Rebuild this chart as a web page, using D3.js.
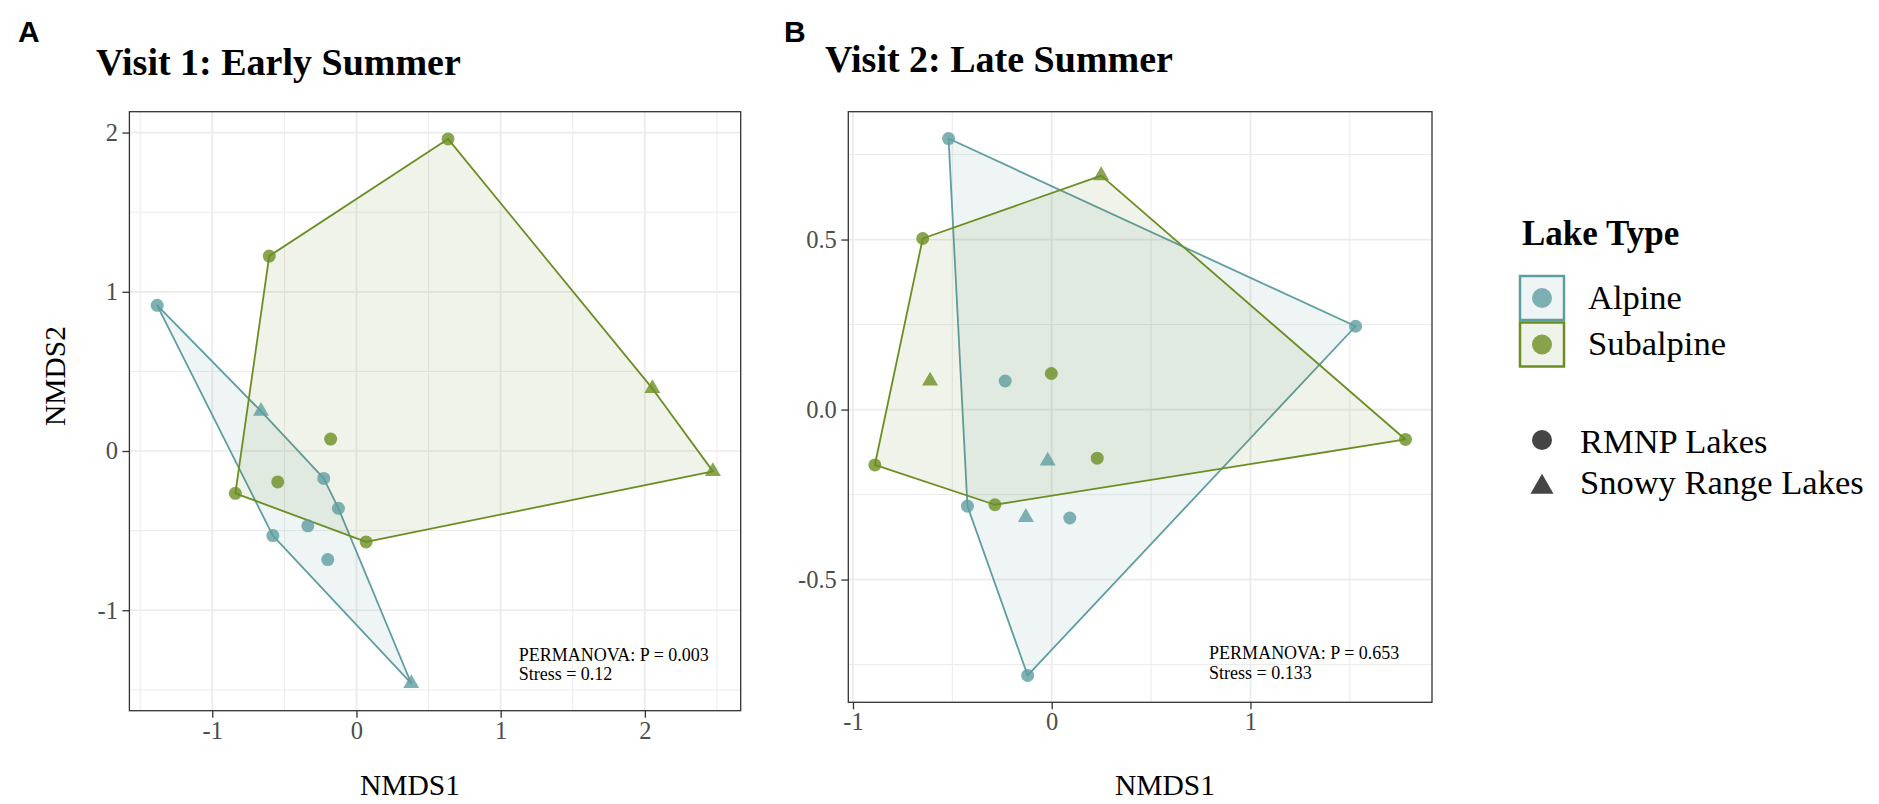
<!DOCTYPE html>
<html>
<head>
<meta charset="utf-8">
<script src="https://cdn.jsdelivr.net/npm/d3@7"></script>
<style>
  body { margin: 0; background: #fff; }
  svg { display: block; }
</style>
</head>
<body>
<svg id="fig" width="1879" height="804"></svg>
<script>
// NMDS scores: [NMDS1, NMDS2, site]
const visit1Alpine = [
  [-1.382, 0.915, "RMNP"], [-0.227, -0.172, "RMNP"], [-0.125, -0.36, "RMNP"],
  [-0.337, -0.47, "RMNP"], [-0.58, -0.531, "RMNP"], [-0.199, -0.682, "RMNP"],
  [-0.662, 0.25, "Snowy"], [0.38, -1.46, "Snowy"]
];
const visit1Subalpine = [
  [0.635, 1.96, "RMNP"], [-0.605, 1.224, "RMNP"], [-0.179, 0.075, "RMNP"],
  [-0.546, -0.194, "RMNP"], [-0.84, -0.266, "RMNP"], [0.067, -0.571, "RMNP"],
  [2.052, 0.393, "Snowy"], [2.472, -0.128, "Snowy"]
];
const visit2Alpine = [
  [-0.519, 0.797, "RMNP"], [1.529, 0.245, "RMNP"], [-0.234, 0.084, "RMNP"],
  [-0.424, -0.284, "RMNP"], [0.091, -0.319, "RMNP"], [-0.121, -0.782, "RMNP"],
  [-0.02, -0.151, "Snowy"], [-0.13, -0.317, "Snowy"]
];
const visit2Subalpine = [
  [-0.649, 0.503, "RMNP"], [-0.002, 0.106, "RMNP"], [0.229, -0.143, "RMNP"],
  [-0.89, -0.163, "RMNP"], [-0.286, -0.28, "RMNP"], [1.78, -0.088, "RMNP"],
  [0.249, 0.688, "Snowy"], [-0.612, 0.084, "Snowy"]
];

const lakeTypes = ["Alpine", "Subalpine"];
const lakeColors = ["#5F9EA0", "#6B8E23"];
const siteKeys = ["RMNP", "Snowy"];
const siteLabels = ["RMNP Lakes", "Snowy Range Lakes"];

const v1XTicks = [-1, 0, 1, 2];
const v1YTicks = [-1, 0, 1, 2];
const v2XTicks = [-1, 0, 1];
const v2YTicks = [-0.5, 0, 0.5];
const v2YLabels = ["-0.5", "0.0", "0.5"];

// text annotations: [NMDS1, NMDS2] of the first line
const v1Stats = ["PERMANOVA: P = 0.003", "Stress = 0.12"];
const v2Stats = ["PERMANOVA: P = 0.653", "Stress = 0.133"];
const v1StatsAt = [1.125, -1.317];
const v2StatsAt = [0.792, -0.734];

const serif = "'Liberation Serif', 'Times New Roman', Times, serif";
const sans = "'Liberation Sans', Arial, Helvetica, sans-serif";
const colorOf = d3.scaleOrdinal().domain(lakeTypes).range(lakeColors);
const shapeOf = d3.scaleOrdinal().domain(siteKeys).range([d3.symbolCircle, d3.symbolTriangle]);
const sizeOf = d3.scaleOrdinal().domain(siteKeys).range([133, 111]);

const svg = d3.select("#fig");

function expanded(ext) {
  const pad = (ext[1] - ext[0]) * 0.05;
  return [ext[0] - pad, ext[1] + pad];
}

function minorOf(ticks, domain) {
  const step = ticks[1] - ticks[0];
  return d3.range(ticks[0] - step / 2, domain[1], step).filter(v => v > domain[0]);
}

function drawPanel(p) {
  const all = p.groups.flatMap(g => g.points);
  const xDom = expanded(d3.extent(all, d => d[0]));
  const yDom = expanded(d3.extent(all, d => d[1]));
  const x = d3.scaleLinear().domain(xDom).range([p.left, p.right]);
  const y = d3.scaleLinear().domain(yDom).range([p.bottom, p.top]);
  const g = svg.append("g");

  // grid
  const grid = g.append("g").attr("stroke", "#ebebeb").attr("fill", "none");
  minorOf(p.xTicks, xDom).forEach(v => grid.append("line")
    .attr("x1", x(v)).attr("x2", x(v)).attr("y1", p.top).attr("y2", p.bottom).attr("stroke-width", 1));
  minorOf(p.yTicks, yDom).forEach(v => grid.append("line")
    .attr("y1", y(v)).attr("y2", y(v)).attr("x1", p.left).attr("x2", p.right).attr("stroke-width", 1));
  p.xTicks.forEach(v => grid.append("line")
    .attr("x1", x(v)).attr("x2", x(v)).attr("y1", p.top).attr("y2", p.bottom).attr("stroke-width", 1.7));
  p.yTicks.forEach(v => grid.append("line")
    .attr("y1", y(v)).attr("y2", y(v)).attr("x1", p.left).attr("x2", p.right).attr("stroke-width", 1.7));

  // convex hulls
  p.groups.forEach(gr => {
    const hull = d3.polygonHull(gr.points.map(d => [x(d[0]), y(d[1])]));
    g.append("path")
      .attr("d", "M" + hull.join("L") + "Z")
      .attr("fill", colorOf(gr.type))
      .attr("fill-opacity", 0.1)
      .attr("stroke", colorOf(gr.type))
      .attr("stroke-width", 1.8)
      .attr("stroke-linejoin", "round");
  });

  // points
  p.groups.forEach(gr => {
    g.append("g").selectAll("path")
      .data(gr.points)
      .join("path")
      .attr("transform", d => `translate(${x(d[0])},${y(d[1])})`)
      .attr("d", d => d3.symbol(shapeOf(d[2]), sizeOf(d[2]))())
      .attr("fill", colorOf(gr.type))
      .attr("fill-opacity", 0.8);
  });

  // border
  g.append("rect")
    .attr("x", p.left).attr("y", p.top)
    .attr("width", p.right - p.left).attr("height", p.bottom - p.top)
    .attr("fill", "none").attr("stroke", "#333").attr("stroke-width", 1.3);

  // axes
  const xAxis = g.append("g")
    .attr("transform", `translate(0,${p.bottom})`)
    .call(d3.axisBottom(x).tickValues(p.xTicks).tickSize(7).tickPadding(3.5));
  const yAxis = g.append("g")
    .attr("transform", `translate(${p.left},0)`)
    .call(d3.axisLeft(y).tickValues(p.yTicks).tickSize(7).tickPadding(4.5));
  [xAxis, yAxis].forEach(a => {
    a.select(".domain").remove();
    a.selectAll("line").attr("stroke", "#333").attr("stroke-width", 1.3);
    a.selectAll("text").attr("fill", "#4d4d4d").style("font-family", serif).style("font-size", "24.5px");
  });
  xAxis.selectAll("text").text(d => String(d));
  yAxis.selectAll("text").text((d, i) => p.yLabels ? p.yLabels[i] : String(d));

  // stats text
  const st = g.append("text")
    .attr("x", x(p.statsAt[0])).attr("y", y(p.statsAt[1]))
    .style("font-family", serif).style("font-size", "18px").attr("fill", "#000");
  p.stats.forEach((s, i) => st.append("tspan").attr("x", x(p.statsAt[0])).attr("dy", i ? 19.5 : 0).text(s));

  // titles
  svg.append("text").attr("x", p.titleX).attr("y", p.titleY)
    .style("font-family", serif).style("font-size", "38px").style("font-weight", "bold")
    .text(p.title);
  svg.append("text").attr("x", p.tagX).attr("y", 42)
    .style("font-family", sans).style("font-size", "30px").style("font-weight", "bold")
    .text(p.tag);
  svg.append("text").attr("x", p.xTitleX).attr("y", 795).attr("text-anchor", "middle")
    .style("font-family", serif).style("font-size", "29.5px")
    .text("NMDS1");
  if (p.yTitle) {
    svg.append("text").attr("transform", "translate(65,376) rotate(-90)").attr("text-anchor", "middle")
      .style("font-family", serif).style("font-size", "29.5px")
      .text(p.yTitle);
  }
}

drawPanel({
  left: 129.4, right: 740.7, top: 111.7, bottom: 710.7,
  groups: [{ type: "Alpine", points: visit1Alpine }, { type: "Subalpine", points: visit1Subalpine }],
  xTicks: v1XTicks, yTicks: v1YTicks,
  stats: v1Stats, statsAt: v1StatsAt,
  title: "Visit 1: Early Summer", titleX: 96, titleY: 75,
  tag: "A", tagX: 18, xTitleX: 410, yTitle: "NMDS2"
});

drawPanel({
  left: 848.3, right: 1432, top: 111.7, bottom: 702.3,
  groups: [{ type: "Alpine", points: visit2Alpine }, { type: "Subalpine", points: visit2Subalpine }],
  xTicks: v2XTicks, yTicks: v2YTicks, yLabels: v2YLabels,
  stats: v2Stats, statsAt: v2StatsAt,
  title: "Visit 2: Late Summer", titleX: 825, titleY: 72,
  tag: "B", tagX: 784, xTitleX: 1165
});

// legend: lake type
const leg = svg.append("g");
leg.append("text").attr("x", 1522).attr("y", 245)
  .style("font-family", serif).style("font-size", "35px").style("font-weight", "bold")
  .text("Lake Type");
lakeTypes.forEach((t, i) => {
  const ky = 276 + i * 46.5;
  leg.append("rect").attr("x", 1520).attr("y", ky).attr("width", 44).attr("height", 44)
    .attr("fill", "#fff");
  leg.append("rect").attr("x", 1520).attr("y", ky).attr("width", 44).attr("height", 44)
    .attr("fill", colorOf(t)).attr("fill-opacity", 0.1)
    .attr("stroke", colorOf(t)).attr("stroke-width", 2.5);
  leg.append("circle").attr("cx", 1542).attr("cy", ky + 22).attr("r", 10)
    .attr("fill", colorOf(t)).attr("fill-opacity", 0.8);
  leg.append("text").attr("x", 1588).attr("y", ky + 32.5)
    .style("font-family", serif).style("font-size", "34.5px")
    .text(t);
});

// legend: site
siteKeys.forEach((s, i) => {
  const cy = 440 + i * 47;
  leg.append("path")
    .attr("transform", `translate(1542,${cy})`)
    .attr("d", d3.symbol(shapeOf(s), i ? 230 : 314)())
    .attr("fill", "#454545");
  leg.append("text").attr("x", 1580).attr("y", 453 + i * 40.6)
    .style("font-family", serif).style("font-size", "34.5px")
    .text(siteLabels[i]);
});
</script>
</body>
</html>
